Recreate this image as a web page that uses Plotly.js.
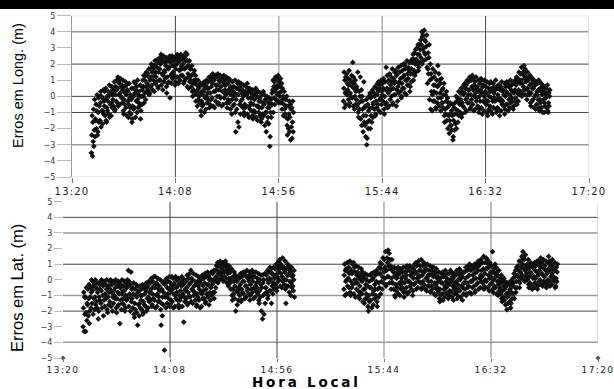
<!DOCTYPE html>
<html><head><meta charset="utf-8">
<script src="https://cdn.plot.ly/plotly-3.0.1.min.js"></script>
<style>html,body{margin:0;padding:0;background:#fff;}#chart{width:614px;height:389px;}
.xtick text{letter-spacing:1.2px;} .x2tick text{letter-spacing:1.4px;}</style>
</head><body><div id="chart"></div>
<script>
// Segment start times (local hour)
var longStart = ['13:29', '15:26'];
var latStart = ['13:29', '15:26'];
// Longitude errors (m): one row per minute, several samples per row
var longSeg1 = [
[-3.7,-3.5,-2.8,-2.4,-1.6,-1.2],[-3.1,-2.5,-2.1,-1.4,-0.8,-0.2],[-2.4,-2.0,-1.5,-0.9,-0.5,0.1],[-2.2,-1.6,-1.0,-0.6,-0.1,0.0],
[-1.9,-1.5,-0.9,-0.4,0.0,0.3],[-1.7,-1.1,-0.9,-0.3,-0.1,0.4],[-1.5,-1.2,-0.6,-0.2,0.3,0.5],[-1.6,-0.9,-0.7,-0.3,0.0,0.3],
[-1.3,-1.1,-0.5,0.0,0.2,0.7],[-1.2,-0.7,-0.4,0.1,0.3,0.6],[-0.9,-0.6,-0.2,0.3,0.5,0.9],[-0.8,-0.3,0.1,0.4,0.6,1.0],
[-0.6,-0.4,0.1,0.5,0.9,1.2],[-0.5,0.0,0.2,0.6,0.8,1.1],[-0.9,-0.4,-0.1,0.4,0.7,1.0],[-1.1,-0.5,-0.2,0.2,0.6,0.9],
[-1.2,-0.7,-0.3,0.1,0.4,0.7],[-1.3,-1.0,-0.5,-0.1,0.3,0.8],[-1.6,-1.1,-0.7,-0.2,0.1,0.5],[-1.4,-0.8,-0.6,0.0,0.5,0.9],
[-1.3,-0.7,-0.3,0.2,0.4,0.8],[-1.0,-0.7,-0.2,0.1,0.6,1.0],[-1.4,-0.6,-0.4,0.0,0.3,0.7],[-0.9,-0.5,0.0,0.4,0.6,1.0],
[-0.4,0.0,0.2,0.6,1.0,1.3],[-0.2,0.3,0.6,0.8,1.3,1.5],[0.1,0.4,0.7,1.2,1.4,1.7],[0.2,0.6,1.0,1.2,1.7,2.0],
[0.4,0.7,1.0,1.5,1.7,1.9],[0.3,0.8,1.3,1.5,1.9,2.2],[0.6,0.9,1.2,1.8,2.0,2.3],[0.5,1.0,1.5,1.7,2.1,2.4],
[0.7,1.0,1.4,2.0,2.2,2.6],[0.4,0.9,1.3,1.6,2.3,2.5],[0.6,1.1,1.5,1.9,2.1,2.4],[0.2,0.8,1.2,1.7,2.2,2.3],
[-0.1,0.9,1.3,1.8,2.1,2.5],[0.8,1.1,1.4,1.9,2.3,2.5],[0.7,1.3,1.5,1.9,2.2,2.4],[0.9,1.2,1.7,2.0,2.3,2.6],
[0.8,1.2,1.6,2.1,2.4,2.5],[1.0,1.3,1.7,1.9,2.2,2.6],[0.8,1.3,1.7,2.0,2.3,2.5],[0.9,1.1,1.7,2.2,2.4,2.7],
[0.6,1.1,1.4,1.8,2.2,2.6],[0.5,0.9,1.2,1.7,1.9,2.2],[0.3,0.6,1.0,1.3,1.7,1.9],[0.0,0.4,0.8,1.0,1.4,1.6],
[-0.3,0.1,0.3,0.8,1.0,1.3],[-0.6,-0.2,0.1,0.5,0.7,1.0],[-0.9,-0.4,0.0,0.2,0.6,0.8],[-1.2,-0.6,-0.3,0.1,0.3,0.7],
[-1.0,-0.5,-0.1,0.3,0.5,0.9],[-0.8,-0.4,0.0,0.5,0.7,1.0],[-0.7,-0.2,0.2,0.5,0.9,1.2],[-0.5,-0.2,0.2,0.6,1.0,1.3],
[-0.6,-0.1,0.3,0.8,1.1,1.4],[-0.7,-0.3,0.3,0.7,1.0,1.3],[-0.5,0.0,0.4,0.7,1.2,1.4],[-0.4,0.0,0.4,0.9,1.0,1.3],
[-0.6,-0.1,0.3,0.6,1.1,1.2],[-0.5,-0.1,0.3,0.7,0.9,1.3],[-0.4,0.1,0.4,0.7,1.0,1.2],[-0.7,-0.2,0.2,0.4,0.8,1.1],
[-0.8,-0.4,0.1,0.3,0.6,1.0],[-1.1,-0.6,-0.2,0.3,0.5,0.9],[-1.0,-0.5,0.0,0.2,0.6,1.0],[-2.2,-0.8,-0.2,0.1,0.5,0.8],
[-1.9,-1.6,-0.5,0.1,0.4,0.9],[-1.1,-0.6,-0.3,0.2,0.6,0.8],[-1.0,-0.7,-0.2,0.0,0.4,0.7],[-1.2,-0.7,-0.5,0.1,0.3,0.6],
[-1.1,-0.6,-0.1,0.1,0.5,0.8],[-1.3,-0.8,-0.6,-0.1,0.3,0.5],[-1.2,-0.9,-0.4,-0.1,0.2,0.4],[-1.4,-0.9,-0.5,-0.2,0.1,0.4],
[-1.3,-1.0,-0.6,-0.1,0.2,0.5],[-1.5,-1.0,-0.6,-0.3,0.0,0.3],[-1.6,-1.2,-0.7,-0.3,-0.1,0.2],[-1.4,-1.1,-0.7,-0.4,0.1,0.3],
[-1.8,-1.2,-1.0,-0.5,-0.2,0.1],[-2.2,-1.6,-1.0,-0.7,-0.2,0.0],[-3.1,-1.7,-1.3,-0.7,-0.4,-0.1],[-2.5,-1.3,-1.0,-0.5,-0.2,0.2],
[-1.0,-0.5,-0.1,0.4,0.6,1.0],[-0.5,-0.2,0.3,0.6,0.9,1.2],[-0.3,0.1,0.5,0.7,1.1,1.3],[-0.4,0.0,0.2,0.6,0.9,1.1],
[-0.8,-0.4,-0.2,0.3,0.5,0.8],[-1.2,-0.8,-0.5,-0.1,0.0,0.3],[-1.8,-1.3,-1.1,-0.6,-0.2,0.0],[-2.4,-2.0,-1.4,-1.1,-0.6,-0.3],
[-2.7,-2.2,-1.9,-1.3,-0.8,-0.5],[-2.6,-2.2,-1.6,-1.0,-0.7,-0.3]
];
var longSeg2 = [
[-0.7,-0.3,0.2,0.5,1.0,1.5],[-0.5,0.1,0.3,0.8,1.2,1.4],[-0.6,-0.2,0.4,0.7,1.1,1.6],[-0.4,0.0,0.2,0.9,1.0,1.3],
[-0.6,-0.1,0.5,0.6,1.2,2.1],[-0.8,-0.5,0.0,0.3,0.8,1.0],[-1.0,-0.6,-0.2,0.4,0.6,1.5],[-1.3,-0.8,-0.4,0.0,0.3,1.2],
[-1.8,-1.4,-0.8,-0.3,0.0,0.4],[-2.2,-1.6,-1.2,-0.7,-0.3,0.9],[-3.0,-2.5,-1.8,-1.2,-0.6,-0.2],[-2.6,-2.0,-1.6,-0.9,-0.5,0.0],
[-2.0,-1.5,-1.2,-0.7,-0.1,0.2],[-1.6,-1.3,-0.7,-0.4,0.0,0.4],[-1.2,-0.8,-0.5,0.0,0.2,0.6],[-1.1,-0.7,-0.3,0.1,0.5,0.8],
[-0.9,-0.5,-0.2,0.3,0.5,0.9],[-1.0,-0.5,-0.1,0.3,0.7,1.0],[-0.8,-0.3,0.1,0.5,0.8,1.1],[-1.1,-0.5,0.0,0.4,0.9,1.8],
[-0.7,-0.4,0.2,0.5,0.9,1.3],[-0.6,-0.2,0.4,0.7,1.0,1.4],[-0.5,0.0,0.4,0.9,1.2,1.7],[-0.4,0.1,0.5,0.8,1.1,1.5],
[-0.6,0.1,0.4,0.9,1.3,1.6],[-0.3,0.2,0.6,0.9,1.4,1.8],[-0.1,0.3,0.8,1.1,1.5,1.9],[0.0,0.5,0.8,1.2,1.6,2.0],
[0.2,0.5,1.0,1.3,1.7,2.0],[0.1,0.7,1.0,1.4,1.8,2.2],[0.3,0.7,1.1,1.6,1.8,2.1],[0.6,0.9,1.4,1.7,2.1,2.3],
[1.0,1.4,1.6,2.1,2.3,2.6],[1.3,1.5,2.0,2.3,2.7,2.9],[1.6,2.0,2.2,2.6,3.0,3.2],[1.8,2.1,2.6,2.9,3.2,3.5],
[2.0,2.4,2.9,3.2,3.7,4.0],[2.2,2.7,3.0,3.5,3.8,4.1],[1.8,2.3,2.6,3.1,3.4,3.8],[0.8,1.4,1.7,2.4,2.7,3.2],
[-0.8,-0.2,0.3,1.0,1.4,2.0],[-0.9,-0.3,0.1,0.7,1.1,1.7],[-0.7,-0.3,0.3,0.7,1.2,1.5],[-0.8,-0.4,0.2,0.6,1.0,1.9],
[-0.6,-0.1,0.2,0.7,1.0,1.4],[-0.9,-0.4,-0.1,0.4,0.8,1.1],[-1.2,-0.7,-0.4,0.1,0.5,0.8],[-1.6,-1.1,-0.8,-0.3,0.1,0.3],
[-2.0,-1.5,-1.2,-0.7,-0.4,-0.1],[-2.3,-1.8,-1.5,-1.1,-0.6,-0.4],[-2.7,-2.1,-1.8,-1.2,-0.9,-0.5],[-2.5,-2.1,-1.5,-1.1,-0.7,-0.4],
[-2.0,-1.7,-1.1,-0.8,-0.3,0.0],[-1.6,-1.2,-0.9,-0.4,-0.1,0.3],[-1.3,-1.0,-0.5,-0.2,0.2,0.5],[-1.1,-0.6,-0.4,0.1,0.3,0.7],
[-1.0,-0.7,-0.2,0.2,0.5,0.8],[-0.9,-0.4,-0.1,0.4,0.7,1.0],[-0.8,-0.4,0.1,0.4,0.9,1.2],[-0.7,-0.2,0.1,0.6,1.0,1.3],
[-0.9,-0.5,0.0,0.4,0.7,1.1],[-0.8,-0.3,0.2,0.5,0.9,1.2],[-1.0,-0.6,-0.1,0.3,0.6,1.0],[-0.8,-0.3,0.0,0.4,0.8,1.1],
[-1.1,-0.7,-0.3,0.2,0.6,1.0],[-0.9,-0.4,0.0,0.3,0.7,1.0],[-1.0,-0.5,-0.2,0.2,0.6,0.9],[-1.2,-0.8,-0.3,0.0,0.5,0.8],
[-0.9,-0.6,-0.1,0.3,0.5,0.9],[-1.1,-0.7,-0.3,0.2,0.4,0.8],[-0.8,-0.3,-0.1,0.4,0.6,1.0],[-1.0,-0.7,-0.2,0.1,0.5,0.7],
[-1.2,-0.8,-0.3,-0.1,0.4,0.7],[-0.9,-0.5,-0.2,0.3,0.6,0.9],[-1.1,-0.6,-0.3,0.1,0.4,0.8],[-0.8,-0.5,0.0,0.3,0.6,0.9],
[-0.9,-0.5,-0.2,0.2,0.6,0.8],[-0.7,-0.4,0.1,0.4,0.6,1.0],[-0.8,-0.3,-0.1,0.3,0.7,0.9],[-0.6,-0.3,0.2,0.4,0.8,1.0],
[-0.5,-0.1,0.2,0.7,0.9,1.2],[-0.3,0.1,0.4,0.9,1.1,1.5],[0.0,0.3,0.8,1.0,1.4,1.8],[0.2,0.6,0.8,1.3,1.5,1.9],
[0.1,0.4,0.9,1.1,1.5,1.7],[-0.2,0.1,0.5,1.0,1.2,1.5],[-0.4,0.1,0.3,0.7,1.1,1.3],[-0.6,-0.3,0.2,0.5,0.8,1.1],
[-0.7,-0.2,0.0,0.5,0.7,1.0],[-0.8,-0.5,0.1,0.3,0.7,0.9],[-0.7,-0.2,0.1,0.4,0.8,1.0],[-0.9,-0.4,-0.2,0.3,0.5,0.8],
[-1.0,-0.7,-0.2,0.1,0.5,0.7],[-1.0,-0.6,-0.4,0.1,0.3,0.6],[-0.9,-0.7,-0.1,0.2,0.5,0.7],[-1.0,-0.6,-0.4,0.0,0.2,0.4]
];
// Latitude errors (m)
var latSeg1 = [
[-3.3,-3.0,-2.2,-1.8,-1.1,-0.8],[-3.3,-2.6,-2.1,-1.5,-1.1,-0.5],[-2.8,-2.3,-1.6,-1.2,-0.6,-0.3],[-2.0,-1.8,-1.1,-0.8,-0.5,0.0],
[-2.2,-1.5,-1.2,-0.7,-0.4,-0.1],[-1.9,-1.6,-1.1,-0.5,-0.3,0.0],[-2.5,-1.8,-1.4,-0.8,-0.6,-0.2],[-2.0,-1.3,-1.1,-0.6,-0.3,-0.1],
[-1.8,-1.5,-1.0,-0.7,-0.2,0.0],[-2.3,-1.7,-1.3,-0.9,-0.4,-0.1],[-1.9,-1.2,-1.0,-0.6,-0.3,0.0],[-2.1,-1.6,-1.1,-0.8,-0.4,-0.1],
[-1.7,-1.4,-0.8,-0.6,-0.1,0.0],[-2.0,-1.5,-1.1,-0.7,-0.3,-0.1],[-1.8,-1.2,-1.0,-0.5,-0.2,0.0],[-2.1,-1.7,-1.2,-0.8,-0.4,-0.1],
[-2.8,-1.6,-1.3,-0.9,-0.5,-0.2],[-1.9,-1.5,-0.9,-0.7,-0.3,0.0],[-2.0,-1.6,-1.2,-0.7,-0.4,-0.1],[-1.8,-1.3,-1.0,-0.5,-0.2,0.0],
[-1.7,-1.2,-0.9,-0.4,-0.1,0.6],[-2.0,-1.4,-1.1,-0.6,-0.3,0.5],[-2.2,-1.8,-1.2,-0.9,-0.5,-0.2],[-2.4,-1.9,-1.5,-1.0,-0.6,-0.3],
[-2.9,-2.1,-1.6,-1.1,-0.8,-0.4],[-2.3,-1.8,-1.5,-1.0,-0.7,-0.4],[-2.2,-1.9,-1.3,-1.0,-0.6,-0.3],[-2.1,-1.6,-1.4,-0.9,-0.5,-0.3],
[-2.0,-1.7,-1.2,-0.7,-0.5,-0.2],[-1.8,-1.4,-1.1,-0.8,-0.4,-0.1],[-1.7,-1.3,-0.8,-0.6,-0.2,0.1],[-1.6,-1.2,-0.9,-0.4,-0.1,0.2],
[-1.8,-1.3,-1.0,-0.5,-0.3,0.2],[-1.7,-1.4,-0.9,-0.6,-0.2,0.1],[-1.9,-1.4,-1.1,-0.7,-0.4,0.0],[-2.9,-2.3,-1.5,-1.1,-0.6,-0.2],
[-4.5,-1.6,-1.1,-0.8,-0.3,-0.1],[-1.8,-1.5,-1.0,-0.5,-0.2,0.1],[-1.7,-1.2,-0.9,-0.6,-0.1,0.2],[-1.6,-1.3,-0.8,-0.4,-0.2,0.2],
[-1.8,-1.4,-0.9,-0.6,-0.3,0.1],[-1.7,-1.2,-1.0,-0.5,-0.2,0.2],[-1.6,-1.3,-0.8,-0.4,0.0,0.1],[-1.8,-1.3,-1.0,-0.7,-0.2,0.1],
[-1.7,-1.1,-0.9,-0.4,-0.1,0.2],[-2.7,-1.4,-1.1,-0.6,-0.3,0.0],[-1.6,-1.2,-0.7,-0.5,-0.1,0.3],[-1.5,-1.0,-0.8,-0.3,0.1,0.4],
[-1.4,-1.1,-0.6,-0.2,0.1,0.6],[-1.5,-1.0,-0.7,-0.4,0.0,0.4],[-1.7,-1.3,-0.8,-0.3,-0.1,0.3],[-1.6,-1.1,-0.9,-0.4,-0.1,0.2],
[-1.8,-1.3,-0.8,-0.6,-0.2,0.1],[-1.7,-1.2,-0.9,-0.4,0.0,0.3],[-1.5,-1.2,-0.7,-0.2,0.1,0.4],[-1.4,-0.9,-0.6,-0.3,0.2,0.5],
[-1.6,-1.1,-0.8,-0.3,0.0,0.3],[-1.3,-1.0,-0.5,-0.1,0.1,0.5],[-1.2,-0.8,-0.3,0.0,0.4,0.6],[-0.8,-0.5,-0.1,0.2,0.6,0.9],
[-0.2,0.1,0.4,0.6,0.9,1.1],[0.0,0.3,0.5,0.8,1.0,1.2],[-0.1,0.1,0.4,0.7,1.0,1.1],[0.0,0.2,0.5,0.9,1.0,1.2],
[-0.2,0.1,0.4,0.6,0.8,1.0],[-0.4,-0.1,0.1,0.5,0.7,0.9],[-1.0,-0.6,-0.2,0.1,0.5,0.7],[-1.3,-0.9,-0.6,-0.1,0.2,0.5],
[-2.0,-1.2,-0.7,-0.4,0.1,0.3],[-1.6,-1.3,-0.8,-0.5,-0.1,0.2],[-1.4,-1.0,-0.6,-0.3,0.1,0.4],[-1.3,-0.8,-0.6,-0.1,0.2,0.5],
[-1.2,-0.9,-0.4,-0.1,0.3,0.5],[-1.1,-0.7,-0.4,0.1,0.3,0.6],[-1.3,-0.9,-0.6,-0.1,0.2,0.5],[-1.0,-0.6,-0.3,0.1,0.3,0.6],
[-1.2,-0.8,-0.5,-0.1,0.2,0.5],[-1.1,-0.7,-0.4,-0.2,0.2,0.5],[-1.3,-0.9,-0.5,-0.1,0.1,0.4],[-1.5,-1.1,-0.7,-0.3,0.0,0.3],
[-2.5,-2.0,-1.0,-0.5,-0.2,0.3],[-2.2,-1.5,-0.9,-0.5,0.0,0.4],[-1.2,-0.8,-0.5,0.0,0.3,0.6],[-1.0,-0.7,-0.2,0.1,0.5,0.8],
[-1.5,-0.7,-0.4,0.0,0.4,0.7],[-0.9,-0.6,-0.2,0.2,0.4,0.8],[-0.7,-0.3,0.1,0.3,0.7,1.0],[-0.5,-0.1,0.2,0.5,0.9,1.2],
[-0.4,0.0,0.4,0.7,1.0,1.3],[-0.5,-0.1,0.2,0.7,0.9,1.4],[-0.6,-0.3,0.1,0.5,0.8,1.2],[-1.5,-0.4,0.0,0.3,0.7,1.0],
[-0.8,-0.4,-0.1,0.3,0.6,0.9],[-1.0,-0.5,-0.2,0.2,0.5,0.8],[-1.1,-0.7,-0.4,0.0,0.3,0.6]
];
var latSeg2 = [
[-1.0,-0.6,-0.1,0.3,0.6,1.0],[-0.9,-0.4,0.0,0.5,0.7,1.1],[-0.8,-0.5,0.1,0.4,0.8,1.2],[-1.0,-0.5,-0.1,0.4,0.6,1.0],
[-0.9,-0.3,0.0,0.5,0.8,1.1],[-1.1,-0.6,-0.2,0.3,0.5,0.9],[-1.0,-0.7,-0.2,0.1,0.5,0.8],[-1.2,-0.8,-0.4,0.0,0.3,0.7],
[-1.4,-0.9,-0.6,-0.1,0.2,0.5],[-1.5,-1.2,-0.6,-0.3,0.1,0.4],[-1.7,-1.2,-0.9,-0.4,0.0,0.3],[-2.0,-1.4,-1.0,-0.5,-0.1,0.3],
[-1.8,-1.3,-0.9,-0.5,0.0,0.4],[-1.6,-1.2,-0.7,-0.3,0.1,0.5],[-1.4,-1.0,-0.6,-0.1,0.3,0.6],[-1.7,-1.1,-0.6,-0.2,0.4,0.8],
[-0.9,-0.5,-0.1,0.4,0.7,1.1],[-0.6,-0.2,0.2,0.6,1.0,1.4],[-0.4,0.1,0.5,0.8,1.3,1.8],[-0.3,0.2,0.6,1.1,1.4,1.9],
[-0.2,0.2,0.7,0.9,1.3,1.7],[-0.6,-0.2,0.1,0.6,0.9,1.3],[-1.0,-0.6,-0.2,0.2,0.5,0.8],[-1.1,-0.7,-0.3,0.1,0.4,0.7],
[-0.9,-0.5,-0.2,0.3,0.5,0.8],[-1.0,-0.6,-0.3,0.1,0.4,0.7],[-0.8,-0.5,-0.1,0.2,0.5,0.8],[-1.1,-0.7,-0.2,0.1,0.5,0.8],
[-0.9,-0.5,-0.1,0.3,0.6,0.9],[-0.8,-0.4,-0.1,0.3,0.7,0.9],[-1.0,-0.6,-0.2,0.2,0.5,0.8],[-0.7,-0.3,0.1,0.4,0.7,1.0],
[-0.6,-0.2,0.1,0.5,0.9,1.1],[-0.5,-0.1,0.3,0.6,1.0,1.2],[-0.6,-0.2,0.2,0.6,0.9,1.3],[-0.5,-0.1,0.3,0.5,0.9,1.1],
[-0.6,-0.3,0.1,0.5,0.7,1.0],[-0.7,-0.4,0.1,0.3,0.7,1.0],[-0.8,-0.4,-0.1,0.3,0.6,0.9],[-0.7,-0.4,-0.1,0.4,0.6,0.8],
[-0.9,-0.5,-0.2,0.2,0.5,0.8],[-1.0,-0.6,-0.3,0.1,0.4,0.7],[-1.2,-0.8,-0.5,-0.1,0.2,0.5],[-1.4,-1.0,-0.6,-0.2,0.1,0.4],
[-1.3,-0.9,-0.6,-0.2,0.2,0.5],[-1.1,-0.8,-0.4,-0.1,0.3,0.6],[-1.2,-0.9,-0.5,-0.2,0.1,0.4],[-1.0,-0.7,-0.3,0.0,0.4,0.6],
[-1.1,-0.8,-0.4,-0.1,0.2,0.5],[-1.3,-0.9,-0.6,-0.2,0.1,0.4],[-1.2,-0.8,-0.5,-0.1,0.3,0.6],[-1.0,-0.6,-0.3,0.1,0.4,0.7],
[-1.1,-0.7,-0.4,0.0,0.3,0.6],[-1.3,-0.9,-0.5,-0.2,0.2,0.5],[-1.0,-0.6,-0.2,0.1,0.5,0.8],[-0.9,-0.5,-0.2,0.2,0.6,0.9],
[-0.8,-0.4,-0.1,0.3,0.7,1.0],[-0.9,-0.5,-0.1,0.3,0.6,0.9],[-0.8,-0.4,0.0,0.4,0.7,1.0],[-0.7,-0.3,0.1,0.5,0.8,1.1],
[-0.6,-0.2,0.1,0.6,0.9,1.2],[-0.5,-0.1,0.3,0.6,1.0,1.3],[-0.6,-0.2,0.2,0.7,1.1,1.5],[-0.4,0.0,0.4,0.7,1.1,1.4],
[-0.5,-0.1,0.3,0.7,1.0,1.3],[-0.7,-0.3,0.1,0.5,0.8,1.1],[-0.6,-0.2,0.2,0.5,0.9,1.8],[-0.8,-0.4,0.0,0.4,0.7,1.0],
[-0.9,-0.5,-0.1,0.2,0.5,0.8],[-1.0,-0.7,-0.3,0.0,0.3,0.6],[-1.2,-0.9,-0.5,-0.2,0.1,0.3],[-1.4,-1.1,-0.7,-0.4,-0.1,0.1],
[-1.6,-1.3,-0.9,-0.6,-0.3,-0.1],[-1.9,-1.5,-1.1,-0.8,-0.4,-0.2],[-1.8,-1.4,-1.0,-0.6,-0.3,-0.1],[-1.5,-1.2,-0.8,-0.4,-0.1,0.1],
[-1.2,-0.9,-0.5,-0.2,0.2,0.4],[-0.8,-0.5,-0.1,0.3,0.6,0.8],[-0.5,-0.1,0.2,0.6,0.9,1.2],[-0.2,0.1,0.5,0.8,1.2,1.5],
[0.0,0.3,0.7,1.0,1.4,1.8],[-0.1,0.2,0.6,0.9,1.3,1.6],[-0.3,0.0,0.4,0.7,1.0,1.3],[-0.5,-0.2,0.2,0.5,0.8,1.1],
[-0.6,-0.3,0.1,0.4,0.8,1.0],[-0.5,-0.2,0.2,0.6,0.9,1.1],[-0.6,-0.3,0.1,0.5,0.9,1.2],[-0.4,-0.1,0.3,0.6,1.0,1.3],
[-0.3,0.0,0.4,0.8,1.1,1.4],[-0.4,-0.1,0.3,0.7,1.0,1.3],[-0.5,-0.2,0.2,0.6,0.9,1.2],[-0.3,0.0,0.4,0.7,1.1,1.5],
[-0.4,-0.1,0.2,0.6,0.9,1.2],[-0.3,0.0,0.4,0.7,1.0,1.3],[-0.5,-0.1,0.2,0.6,0.8,1.1],[-0.4,-0.1,0.1,0.5,0.8,1.0]
];
// Axis range and ticks
var axisStart = '13:20', axisEnd = '17:20';
var tickStepMin = 48;
var yTicks = [-5,-4,-3,-2,-1,0,1,2,3,4,5];
// the two markers at the corners of the lower panel
var cornerTimes = ['13:20', '17:20'];
var cornerVals = [-5, -5];

function t(hm) { var p = hm.split(':'); return Date.UTC(2000, 0, 1, +p[0], +p[1]); }
// within each minute the samples are spread over the minute in a mixed order
var slotOrders = [[3, 0, 5, 1, 4, 2], [1, 4, 2, 5, 0, 3], [5, 2, 0, 3, 1, 4], [0, 3, 1, 4, 2, 5]];
function build(rows, startHM) {
  var xs = [], ys = [], t0 = t(startHM);
  rows.forEach(function (r, i) {
    var ord = slotOrders[i % slotOrders.length];
    r.forEach(function (v, k) { xs.push(t0 + i * 60000 + ord[k] * 10000); ys.push(v); });
  });
  return {x: xs, y: ys};
}
var mk = {symbol: 'diamond', size: 4.4, color: '#111', line: {width: 0}};
var traces = [];
[[longSeg1, longStart[0]], [longSeg2, longStart[1]]].forEach(function (s) {
  var d = build(s[0], s[1]);
  traces.push({type: 'scatter', mode: 'markers', x: d.x, y: d.y, xaxis: 'x', yaxis: 'y', marker: mk, hoverinfo: 'skip'});
});
[[latSeg1, latStart[0]], [latSeg2, latStart[1]]].forEach(function (s) {
  var d = build(s[0], s[1]);
  traces.push({type: 'scatter', mode: 'markers', x: d.x, y: d.y, xaxis: 'x2', yaxis: 'y2', marker: mk, hoverinfo: 'skip'});
});
traces.push({type: 'scatter', mode: 'markers', x: cornerTimes.map(t), y: cornerVals, xaxis: 'x2', yaxis: 'y2',
  marker: {symbol: 'diamond', size: 4, color: '#555'}, hoverinfo: 'skip', cliponaxis: false});

var x0 = t(axisStart), x1 = t(axisEnd);
var tf = "DejaVu Sans, Arial, sans-serif";
function xax(domain, anchor, fs, tl) {
  return {type: 'date', domain: domain, anchor: anchor, range: [x0, x1], tick0: x0, dtick: tickStepMin * 60000,
    tickformat: '%H:%M', showgrid: false, zeroline: false, ticks: 'outside', ticklen: tl, tickcolor: '#777',
    tickfont: {family: tf, size: fs, color: '#222'}, showline: false, ticklabeloverflow: 'allow'};
}
function yax(domain, anchor, tl, line) {
  return {domain: domain, anchor: anchor, range: [-5, 5], tickvals: yTicks, showgrid: false, zeroline: false,
    ticks: 'outside', ticklen: tl, tickcolor: '#bbb', tickfont: {family: tf, size: 8, color: '#333'},
    showline: line, linecolor: '#999', linewidth: 1};
}
var shapes = [];
function hline(xr, yr, v, col, w) {
  shapes.push({type: 'line', xref: xr, yref: yr, x0: x0, x1: x1, y0: v, y1: v, line: {color: col, width: w}, layer: 'below'});
}
function vline(xr, yr, hm, col, w, ya, yb) {
  shapes.push({type: 'line', xref: xr, yref: yr, x0: t(hm), x1: t(hm), y0: ya, y1: yb, line: {color: col, width: w}, layer: 'below'});
}
var dark = '#444', mid = '#9a9a9a', light = '#cfcfcf';
// upper panel grid
hline('x', 'y', 5, light, 1); hline('x', 'y', -5, light, 1);
hline('x', 'y', 4, mid, 1.5); hline('x', 'y', -3, mid, 1.5);
hline('x', 'y', 2, dark, 1); hline('x', 'y', 0, dark, 1); hline('x', 'y', -1, dark, 1);
vline('x', 'y', '14:08', dark, 1, -5, 5); vline('x', 'y', '14:56', mid, 1.2, -5, 5);
vline('x', 'y', '15:44', mid, 1.2, -5, 5); vline('x', 'y', '16:32', dark, 1, -5, 5);
vline('x', 'y', '17:20', light, 1, -5, 5);
// lower panel grid
hline('x2', 'y2', 3, mid, 1.5); hline('x2', 'y2', -1, mid, 1.5); hline('x2', 'y2', -4, mid, 1.5);
hline('x2', 'y2', 4, dark, 1); hline('x2', 'y2', 1, dark, 1); hline('x2', 'y2', -2, dark, 1);
vline('x2', 'y2', '14:08', dark, 1, -5, 5); vline('x2', 'y2', '14:56', dark, 1, -5, 5);
vline('x2', 'y2', '15:44', mid, 1.2, -5, 5); vline('x2', 'y2', '16:32', '#777', 1, -5, 5);
vline('x2', 'y2', '17:20', light, 1, -4.1, 5);
// black band at the top of the picture
shapes.push({type: 'rect', xref: 'paper', yref: 'paper', x0: 0, x1: 1, y0: 1 - 9 / 389, y1: 1, fillcolor: '#000', line: {width: 0}, layer: 'above'});

var nf = "Liberation Sans, Arial, sans-serif";
var layout = {
  width: 614, height: 389, margin: {l: 0, r: 0, t: 0, b: 0}, showlegend: false,
  paper_bgcolor: '#fff', plot_bgcolor: '#fff',
  xaxis: xax([72 / 614, 589 / 614], 'y', 10, 5),
  yaxis: yax([1 - 177 / 389, 1 - 15.7 / 389], 'x', 14, true),
  xaxis2: xax([63 / 614, 598 / 614], 'y2', 9, 3),
  yaxis2: yax([1 - 358 / 389, 1 - 201.7 / 389], 'x2', 8, false),
  shapes: shapes,
  annotations: [
    {text: 'Erros em Long. (m)', xref: 'paper', yref: 'paper', x: 18 / 614, y: 1 - 86 / 389, textangle: -90,
     showarrow: false, xanchor: 'center', yanchor: 'middle', font: {family: nf, size: 14.5, color: '#000'}},
    {text: 'Erros em Lat. (m)', xref: 'paper', yref: 'paper', x: 17 / 614, y: 1 - 288 / 389, textangle: -90,
     showarrow: false, xanchor: 'center', yanchor: 'middle', font: {family: nf, size: 16.5, color: '#000'}},
    {text: '<b>Hora Local</b>', xref: 'paper', yref: 'paper', x: 306 / 614, y: 1 - 382 / 389,
     showarrow: false, xanchor: 'center', yanchor: 'middle', font: {family: 'DejaVu Sans, Arial, sans-serif', size: 13.5, color: '#000'}}
  ]
};
Plotly.newPlot('chart', traces, layout, {staticPlot: true, displayModeBar: false}).then(function () {
  document.querySelectorAll('.annotation-text').forEach(function (el) {
    if (el.textContent === 'Hora Local') el.style.letterSpacing = '2.8px';
  });
});
</script></body></html>
